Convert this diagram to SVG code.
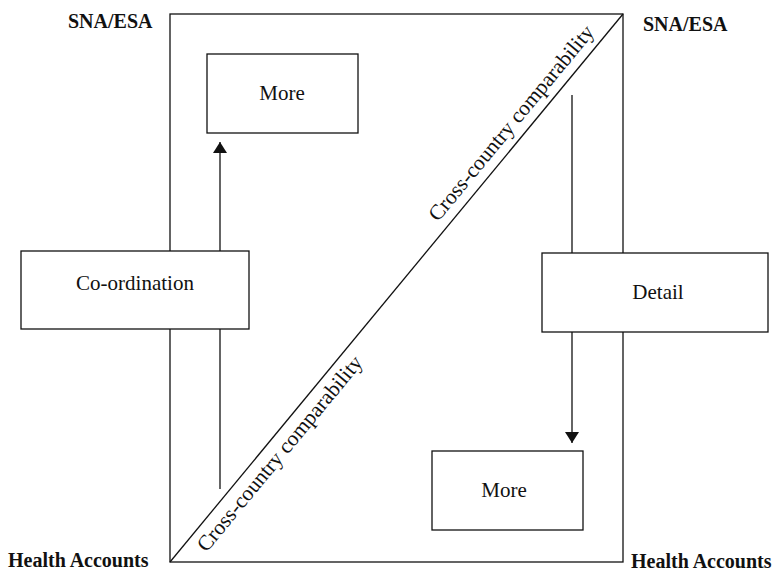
<svg xmlns="http://www.w3.org/2000/svg" width="782" height="571" viewBox="0 0 782 571">
<style>
.ln{stroke:#111;stroke-width:1.3;fill:none}
.box{fill:#fff;stroke:#111;stroke-width:1.3}
.t{font-family:"Liberation Serif","Times New Roman",serif;font-size:21px;fill:#111}
.b{font-family:"Liberation Serif","Times New Roman",serif;font-size:20px;font-weight:bold;fill:#111}
.d{font-family:"Liberation Serif","Times New Roman",serif;font-size:21.5px;fill:#111}
</style>
<defs>
<marker id="ah" viewBox="0 0 11 14" refX="11" refY="7" markerWidth="11" markerHeight="14" markerUnits="userSpaceOnUse" orient="auto">
<path d="M0,0 L11,7 L0,14 Z" fill="#111"/>
</marker>
</defs>
<rect width="782" height="571" fill="#fff"/>
<g id="frame">
<rect class="ln" x="170" y="14" width="453" height="548"/>
<line class="ln" x1="170" y1="562" x2="623" y2="14"/>
</g>
<g id="connectors">
<line class="ln" x1="220" y1="489" x2="220" y2="142" marker-end="url(#ah)"/>
<line class="ln" x1="572" y1="95" x2="572" y2="443" marker-end="url(#ah)"/>
</g>
<g id="more-top">
<rect class="box" x="207" y="54" width="151" height="79"/>
<text class="t" x="282" y="100" text-anchor="middle">More</text>
</g>
<g id="coordination">
<rect class="box" x="21" y="251" width="228" height="78"/>
<text class="t" x="135" y="290" text-anchor="middle">Co-ordination</text>
</g>
<g id="detail">
<rect class="box" x="542" y="253" width="226" height="79"/>
<text class="t" x="658" y="299" text-anchor="middle">Detail</text>
</g>
<g id="more-bottom">
<rect class="box" x="432" y="451" width="151" height="79"/>
<text class="t" x="504" y="497" text-anchor="middle">More</text>
</g>
<g id="labels">
<text class="b" x="68" y="28">SNA/ESA</text>
<text class="b" x="643" y="31">SNA/ESA</text>
<text class="b" x="8" y="567">Health Accounts</text>
<text class="b" x="631" y="568">Health Accounts</text>
<text class="d" text-anchor="middle" transform="translate(516.5,127.5) rotate(-50.42)">Cross-country comparability</text>
<text class="d" text-anchor="middle" transform="translate(285,458) rotate(-50.42)">Cross-country comparability</text>
</g>
</svg>
